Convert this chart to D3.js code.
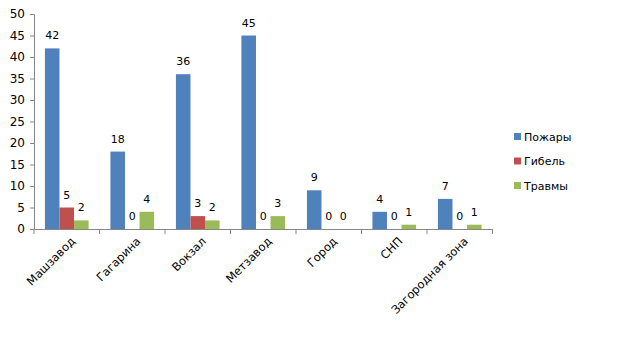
<!DOCTYPE html>
<html lang="ru">
<head>
  <meta charset="UTF-8">
  <title>Пожары, гибель, травмы</title>
  <style>
    body { margin: 0; background: #fff; }
    svg text { font-family: "DejaVu Sans", Verdana, sans-serif; font-size: 11px; fill: #000; }
  </style>
</head>
<body>
  <svg id="chart"></svg>
  <script src="https://d3js.org/d3.v7.min.js"></script>
  <script>
    // data
    const categories = ["Машзавод", "Гагарина", "Вокзал", "Метзавод", "Город", "СНП", "Загородная зона"];
    const seriesNames = ["Пожары", "Гибель", "Травмы"];
    const fires = [42, 18, 36, 45, 9, 4, 7];
    const deaths = [5, 0, 3, 0, 0, 0, 0];
    const injuries = [2, 4, 2, 3, 0, 1, 1];
    const yTicks = [0, 5, 10, 15, 20, 25, 30, 35, 40, 45, 50];

    const colors = ["#4F81BD", "#C0504D", "#9BBB59"];
    const seriesValues = [fires, deaths, injuries];

    const width = 623, height = 344;
    const plot = { left: 34, right: 492.5, top: 14, bottom: 229 };

    const svg = d3.select("#chart")
      .attr("width", width)
      .attr("height", height);

    const x0 = d3.scaleBand()
      .domain(categories)
      .range([plot.left, plot.right])
      .padding(0);

    const x1 = d3.scaleBand()
      .domain(seriesNames)
      .range([0, x0.bandwidth()])
      .paddingInner(0)
      .paddingOuter(0.75);

    const y = d3.scaleLinear()
      .domain([0, 50])
      .range([plot.bottom, plot.top]);

    // bars
    const groups = svg.append("g")
      .selectAll("g")
      .data(categories)
      .join("g")
      .attr("transform", d => `translate(${x0(d)},0)`);

    groups.selectAll("rect")
      .data((c, i) => seriesNames.map((s, j) => ({ s, j, v: seriesValues[j][i] })))
      .join("rect")
      .attr("x", d => x1(d.s))
      .attr("y", d => y(d.v))
      .attr("width", x1.bandwidth())
      .attr("height", d => y(0) - y(d.v))
      .attr("fill", d => colors[d.j]);

    // value labels
    groups.selectAll("text")
      .data((c, i) => seriesNames.map((s, j) => ({ s, j, v: seriesValues[j][i] })))
      .join("text")
      .attr("x", d => x1(d.s) + x1.bandwidth() / 2)
      .attr("y", d => y(d.v) - 9)
      .attr("text-anchor", "middle")
      .text(d => d.v);

    // y axis
    const yAxis = svg.append("g")
      .attr("transform", `translate(${plot.left},0)`)
      .call(d3.axisLeft(y).tickValues(yTicks).tickSize(4).tickPadding(5));
    yAxis.select(".domain").attr("stroke", "#868686");
    yAxis.selectAll(".tick line").attr("stroke", "#868686");
    yAxis.selectAll(".tick text").style("font-size", "12px");

    // x axis
    const xAxis = svg.append("g")
      .attr("transform", `translate(0,${plot.bottom})`)
      .call(d3.axisBottom(x0).tickSize(0).tickFormat(""));
    xAxis.select(".domain").attr("stroke", "#868686");
    xAxis.selectAll(".tick").remove();

    // category separators
    const bounds = categories.map(c => x0(c)).concat([plot.right]);
    svg.append("g")
      .selectAll("line")
      .data(bounds)
      .join("line")
      .attr("x1", d => d).attr("x2", d => d)
      .attr("y1", plot.bottom).attr("y2", plot.bottom + 5)
      .attr("stroke", "#868686");

    // category labels
    svg.append("g")
      .selectAll("text")
      .data(categories)
      .join("text")
      .attr("text-anchor", "end")
      .style("font-size", "11.5px")
      .attr("transform", d => `translate(${x0(d) + x0.bandwidth() / 2 + 9},${plot.bottom + 13}) rotate(-45)`)
      .text(d => d);

    // legend
    const legend = svg.append("g")
      .selectAll("g")
      .data(seriesNames)
      .join("g")
      .attr("transform", (d, i) => `translate(514,${133 + i * 24.5})`);
    legend.append("rect")
      .attr("width", 7).attr("height", 7)
      .attr("fill", (d, i) => colors[i]);
    legend.append("text")
      .attr("x", 10).attr("y", 7.5)
      .text(d => d);
  </script>
</body>
</html>
